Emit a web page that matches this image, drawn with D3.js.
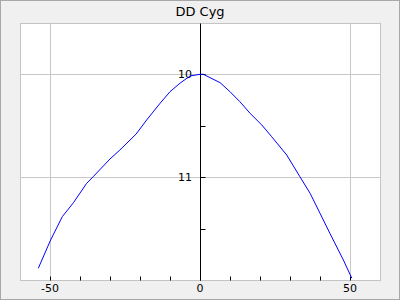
<!DOCTYPE html>
<html>
<head>
<meta charset="utf-8">
<script src="https://cdn.jsdelivr.net/npm/d3@7"></script>
<style>
  html, body { margin: 0; padding: 0; background: #f0f0f0; }
  svg { display: block; font-family: "DejaVu Sans", sans-serif; }
</style>
</head>
<body>
<svg id="chart" width="400" height="300"></svg>
<script>
// light curve of DD Cyg: phase offset vs magnitude (y inverted)
var title = 'DD Cyg';
var phase = [-53.9, -49.8, -45.9, -42.2, -37.8, -35.6, -30, -26.7, -21.3, -17.8, -13.3, -10, -6.7, -3.3, 0,
             1.1, 6.7, 10, 13.3, 16.7, 20.6, 23.9, 28.9, 33.3, 36.7, 40, 43.3, 47.8, 50.6];
var mag = [11.886, 11.612, 11.385, 11.25, 11.062, 10.997, 10.825, 10.738, 10.583, 10.447, 10.284, 10.172, 10.09, 10.019, 10.003,
           10.003, 10.084, 10.172, 10.269, 10.382, 10.495, 10.609, 10.786, 10.997, 11.158, 11.352, 11.547, 11.806, 11.983];
var xMajor = [-50, 0, 50];
var xMinor = [-40, -30, -20, -10, 10, 20, 30, 40];
var yMajor = [10, 11];
var yMinor = [10.5, 11.5];

var svg = d3.select('#chart');
// plot frame edges (window.top is read-only, so use pl/pr/pt/pb)
var pl = 20.5, pr = 380.5, pt = 23.5, pb = 280.5;

var x = d3.scaleLinear().domain([-60, 60]).range([20, 380]);
var y = d3.scaleLinear().domain([9.5, 12]).range([22.5, 280]);

// outer frame
svg.append('rect').attr('x', 0.5).attr('y', 0.5).attr('width', 399).attr('height', 299)
  .attr('fill', '#f0f0f0').attr('stroke', '#a8a8a8');

svg.append('text').attr('x', 200).attr('y', 15.5).attr('text-anchor', 'middle')
  .attr('font-size', 13).attr('fill', '#000').text(title);

svg.append('rect').attr('x', pl).attr('y', pt)
  .attr('width', pr - pl).attr('height', pb - pt)
  .attr('fill', '#fff').attr('stroke', '#c4c4c4');

svg.append('clipPath').attr('id', 'plot-clip').append('rect')
  .attr('x', pl).attr('y', pt).attr('width', pr - pl).attr('height', pb - pt);

// grid
var grid = svg.append('g').attr('stroke', '#c8c8c8').attr('stroke-width', 1);
xMajor.forEach(function (v) {
  grid.append('line').attr('x1', Math.round(x(v)) + 0.5).attr('x2', Math.round(x(v)) + 0.5)
    .attr('y1', pt).attr('y2', pb);
});
yMajor.forEach(function (v) {
  grid.append('line').attr('y1', Math.round(y(v)) + 0.5).attr('y2', Math.round(y(v)) + 0.5)
    .attr('x1', pl).attr('x2', pr);
});

// x ticks along bottom, pointing up
var ax = svg.append('g').attr('stroke', '#000');
xMajor.concat(xMinor).forEach(function (v) {
  var px = Math.round(x(v)) + 0.5;
  ax.append('line').attr('x1', px).attr('x2', px).attr('y1', pb - 4).attr('y2', pb);
});
xMajor.forEach(function (v) {
  svg.append('text').attr('x', x(v)).attr('y', 291.5).attr('text-anchor', 'middle')
    .attr('font-size', 11).attr('fill', '#000').text(d3.format('d')(v).replace('\u2212', '-'));
});

// y axis at x = 0
var x0 = Math.round(x(0)) + 0.5;
ax.append('line').attr('x1', x0).attr('x2', x0).attr('y1', pt).attr('y2', pb);
yMajor.concat(yMinor).forEach(function (v) {
  var py = Math.round(y(v)) + 0.5;
  ax.append('line').attr('x1', x0).attr('x2', x0 + 5).attr('y1', py).attr('y2', py);
});
yMajor.forEach(function (v) {
  svg.append('text').attr('x', 192).attr('y', y(v) + 4).attr('text-anchor', 'end')
    .attr('font-size', 11).attr('fill', '#000').text(v);
});

var line = d3.line().x(function (d) { return x(d[0]); }).y(function (d) { return y(d[1]); });
svg.append('path').datum(d3.zip(phase, mag))
  .attr('clip-path', 'url(#plot-clip)')
  .attr('d', line).attr('fill', 'none').attr('stroke', '#0000ff').attr('stroke-width', 1);
</script>
</body>
</html>
